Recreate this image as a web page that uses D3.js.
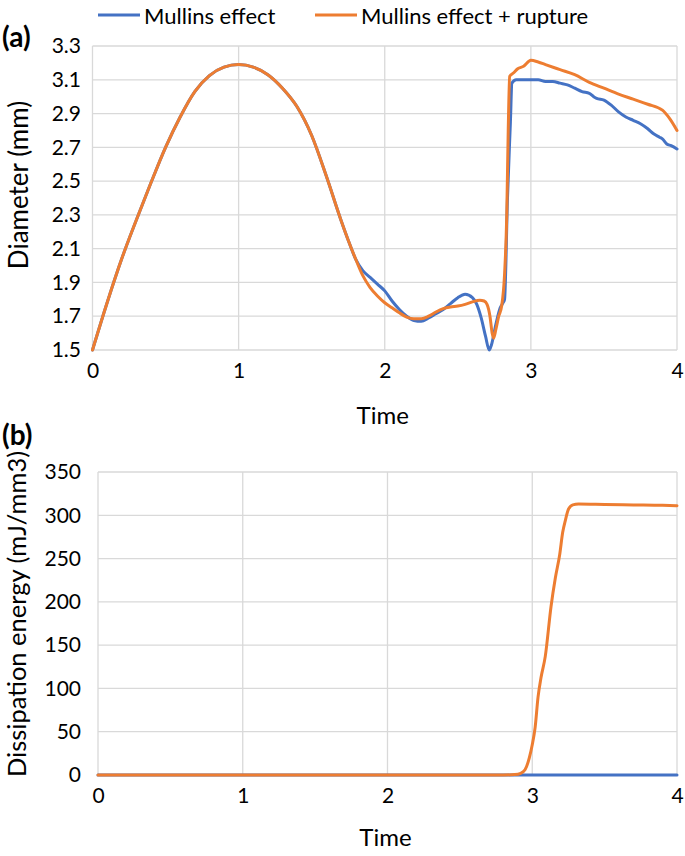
<!DOCTYPE html>
<html><head><meta charset="utf-8">
<script src="https://cdn.jsdelivr.net/npm/d3@7"></script>
<style>body{margin:0;background:#fff}svg{display:block}text{font-family:Lato,"Open Sans",sans-serif;fill:#000}</style>
</head><body>
<svg id="c" width="685" height="856"></svg>
<script>
// ---------- data ----------
const seriesNames = ["Mullins effect", "Mullins effect + rupture"];
const timeTicks = [0, 1, 2, 3, 4];
const diaTicks = [1.5, 1.7, 1.9, 2.1, 2.3, 2.5, 2.7, 2.9, 3.1, 3.3];
const energyTicks = [0, 50, 100, 150, 200, 250, 300, 350];

const tBlueA = [0,0.1,0.2,0.3,0.4,0.5,0.6,0.7,0.8,0.9,1.0,1.1,1.2,1.3,1.4,1.5,1.6,1.7,1.75,1.8,1.85,1.9,1.95,2.0,2.05,2.1,2.15,2.2,2.25,2.3,2.35,2.4,2.45,2.5,2.55,2.6,2.63,2.66,2.69,2.715,2.73,2.76,2.79,2.81,2.82,2.84,2.86,2.87,2.9,2.95,3.0,3.05,3.1,3.15,3.2,3.25,3.3,3.35,3.4,3.43,3.45,3.5,3.55,3.6,3.65,3.7,3.75,3.8,3.84,3.88,3.9,3.93,3.96,4.0];
const dBlueA = [1.50,1.78,2.04,2.27,2.49,2.70,2.88,3.03,3.125,3.175,3.19,3.175,3.13,3.05,2.94,2.77,2.53,2.27,2.15,2.04,1.97,1.93,1.89,1.85,1.79,1.74,1.70,1.675,1.67,1.69,1.715,1.74,1.775,1.81,1.83,1.81,1.77,1.69,1.58,1.50,1.53,1.65,1.75,1.78,1.80,2.40,2.85,3.08,3.10,3.10,3.10,3.10,3.09,3.09,3.08,3.07,3.05,3.03,3.02,3.00,2.99,2.98,2.95,2.91,2.88,2.86,2.84,2.81,2.78,2.76,2.75,2.72,2.71,2.69];

const tOrangeA = [0,0.1,0.2,0.3,0.4,0.5,0.6,0.7,0.8,0.9,1.0,1.1,1.2,1.3,1.4,1.5,1.6,1.7,1.75,1.8,1.85,1.9,1.95,2.0,2.05,2.1,2.15,2.2,2.25,2.3,2.35,2.4,2.45,2.5,2.55,2.6,2.65,2.68,2.7,2.72,2.735,2.745,2.76,2.78,2.80,2.82,2.835,2.845,2.855,2.88,2.91,2.95,3.0,3.05,3.1,3.2,3.3,3.4,3.5,3.6,3.7,3.8,3.9,3.95,4.0];
const dOrangeA = [1.50,1.78,2.04,2.27,2.49,2.70,2.88,3.03,3.125,3.175,3.19,3.175,3.13,3.05,2.94,2.77,2.53,2.27,2.15,2.04,1.94,1.87,1.82,1.78,1.75,1.72,1.695,1.685,1.685,1.70,1.725,1.745,1.755,1.76,1.77,1.785,1.795,1.79,1.77,1.70,1.60,1.57,1.62,1.70,1.76,1.95,2.30,2.80,3.12,3.14,3.165,3.18,3.215,3.205,3.19,3.16,3.13,3.085,3.05,3.015,2.985,2.955,2.92,2.87,2.80];

const tBlueB = [0,1,2,3,4];
const eBlueB = [0,0,0,0,0];
const tOrangeB = [0,1,2,2.8,2.88,2.92,2.95,2.98,3.0,3.02,3.04,3.06,3.09,3.13,3.16,3.19,3.21,3.23,3.25,3.28,3.32,3.5,3.7,3.9,4.0];
const eOrangeB = [0,0,0,0,0.5,2,6,20,35,55,90,112,137,195,228,255,280,295,307,312,313,312.5,312,311.5,311];

const colors = ["#4472C4", "#ED7D31"];
const grid = "#D9D9D9";

// ---------- drawing ----------
const svg = d3.select("#c");

function panel(opt) {
  const x = d3.scaleLinear().domain([0, 4]).range([opt.x0, opt.x1]);
  const y = d3.scaleLinear().domain(opt.ydom).range([opt.y0, opt.y1]);
  const g = svg.append("g");
  g.selectAll(".hg").data(opt.yticks).join("line")
    .attr("x1", opt.x0).attr("x2", opt.x1)
    .attr("y1", d => y(d)).attr("y2", d => y(d))
    .attr("stroke", grid).attr("stroke-width", 1.3);
  g.selectAll(".vg").data(timeTicks).join("line")
    .attr("x1", d => x(d)).attr("x2", d => x(d))
    .attr("y1", opt.y0).attr("y2", opt.y1)
    .attr("stroke", grid).attr("stroke-width", 1.3);
  const ax = g.append("g").attr("transform", `translate(0,${opt.y0})`)
    .call(d3.axisBottom(x).tickValues(timeTicks).tickFormat(d3.format("d")).tickSize(0).tickPadding(opt.xpad));
  ax.select(".domain").remove();
  ax.selectAll("text").attr("font-size", 21).attr("font-family", "Lato").attr("fill", "#000");
  const ay = g.append("g").attr("transform", `translate(81,0)`)
    .call(d3.axisLeft(y).tickValues(opt.yticks).tickFormat(opt.yfmt).tickSize(0).tickPadding(0));
  ay.select(".domain").remove();
  ay.selectAll("text").attr("font-size", 21).attr("font-family", "Lato").attr("fill", "#000");
  const line = d3.line().x(d => x(d[0])).y(d => y(d[1])).curve(d3.curveMonotoneX);
  opt.series.forEach((s, i) => {
    g.append("path").datum(d3.zip(s[0], s[1]))
      .attr("fill", "none").attr("stroke", colors[i]).attr("stroke-width", 3)
      .attr("stroke-linejoin", "round").attr("stroke-linecap", "round")
      .attr("d", line);
  });
  g.append("text").attr("x", (opt.x0 + opt.x1) / 2 - 2).attr("y", opt.timeY)
    .attr("text-anchor", "middle").attr("dominant-baseline", "central")
    .attr("font-size", 24).text("Time");
  g.append("text").attr("transform", `translate(${opt.ytx},${opt.yty}) rotate(-90)`)
    .attr("text-anchor", "middle").attr("dominant-baseline", "central")
    .attr("font-size", opt.ytsize).text(opt.ytitle);
  g.append("text").attr("x", 2).attr("y", opt.tagY).attr("dominant-baseline", "central")
    .attr("font-size", 28).attr("font-weight", "bold").text(opt.tag);
}

panel({
  x0: 92.5, x1: 677, y0: 350, y1: 46, ydom: [1.5, 3.3], yticks: diaTicks,
  yfmt: d3.format(".1f"), xpad: 13,
  series: [[tBlueA, dBlueA], [tOrangeA, dOrangeA]],
  timeY: 414, ytitle: "Diameter (mm)", ytx: 18, yty: 185, ytsize: 26, tag: "(a)", tagY: 36
});
panel({
  x0: 98, x1: 677, y0: 775, y1: 472, ydom: [0, 350], yticks: energyTicks,
  yfmt: d3.format("d"), xpad: 13,
  series: [[tBlueB, eBlueB], [tOrangeB, eOrangeB]],
  timeY: 836, ytitle: "Dissipation energy (mJ/mm3)", ytx: 16, yty: 614, ytsize: 25.5, tag: "(b)", tagY: 434
});

const leg = svg.append("g");
const legX = [98, 315];
seriesNames.forEach((n, i) => {
  leg.append("line").attr("x1", legX[i]).attr("x2", legX[i] + 42)
    .attr("y1", 15).attr("y2", 15).attr("stroke", colors[i]).attr("stroke-width", 3);
  leg.append("text").attr("x", legX[i] + 46).attr("y", 15).attr("dominant-baseline", "central")
    .attr("font-size", 22).text(n);
});
</script>
</body></html>
